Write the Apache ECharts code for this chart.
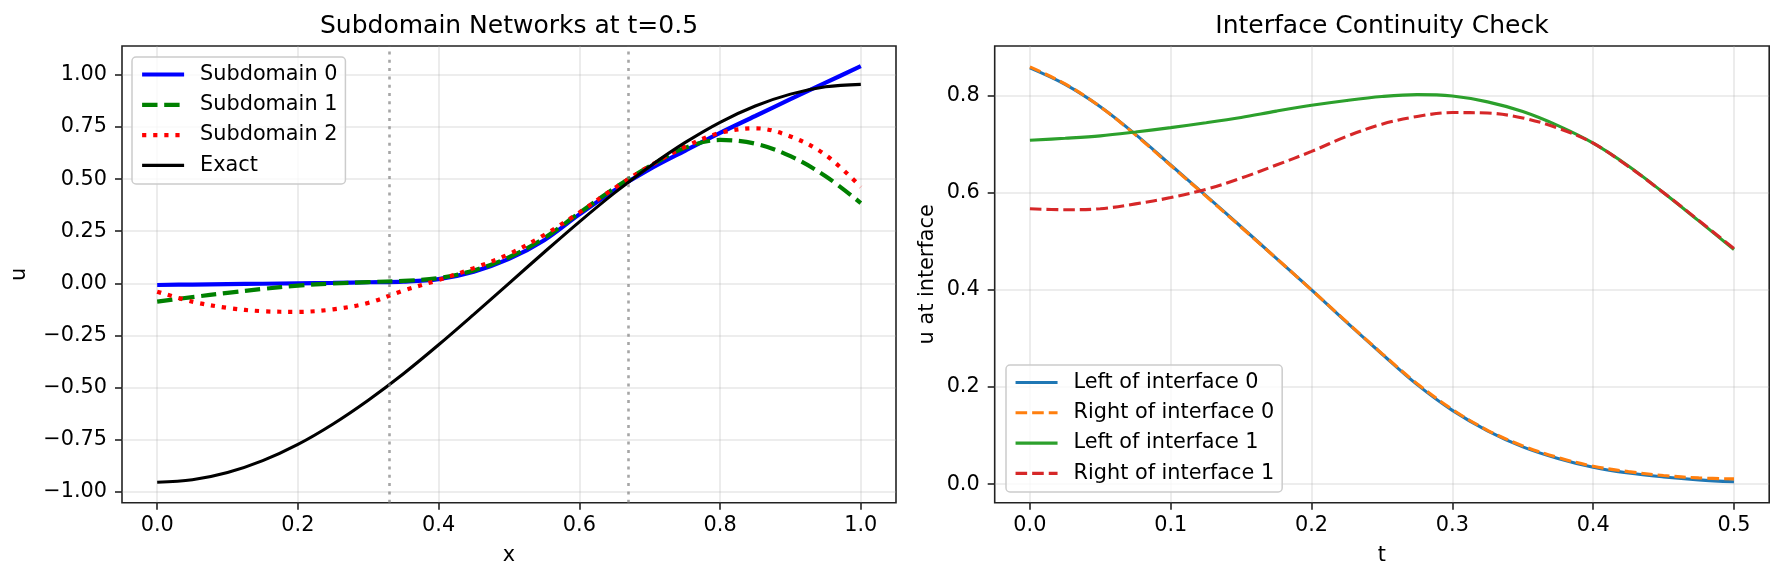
<!DOCTYPE html>
<html>
<head>
<meta charset="utf-8">
<script src="https://cdn.jsdelivr.net/npm/echarts@6.0.0/dist/echarts.min.js"></script>
<style>
html, body { margin: 0; padding: 0; background: #fff; }
#chart { width: 1784px; height: 581px; }
</style>
</head>
<body>
<div id="chart"></div>
<script>
// left panel: networks at t=0.5
var xs = [0, 0.05, 0.1, 0.15, 0.2, 0.25, 0.3, 0.35, 0.4, 0.45, 0.5,
          0.55, 0.6, 0.65, 0.7, 0.75, 0.8, 0.85, 0.9, 0.95, 1.0];
var sub0 = [-0.008, -0.006, -0.004, -0.002, 0.000, 0.002, 0.005, 0.008, 0.020, 0.056, 0.117,
            0.207, 0.331, 0.447, 0.548, 0.636, 0.722, 0.803, 0.884, 0.963, 1.042];
var sub1 = [-0.088, -0.066, -0.046, -0.027, -0.011, -0.001, 0.006, 0.012, 0.025, 0.062, 0.125,
            0.217, 0.338, 0.457, 0.562, 0.650, 0.688, 0.670, 0.610, 0.514, 0.385];
var sub2 = [-0.040, -0.088, -0.118, -0.134, -0.137, -0.125, -0.094, -0.035, 0.016, 0.073, 0.140,
            0.232, 0.340, 0.457, 0.563, 0.655, 0.722, 0.744, 0.705, 0.616, 0.462];
var exact = [-0.955, -0.943, -0.908, -0.851, -0.773, -0.675, -0.561, -0.434, -0.295, -0.149, 0.000,
             0.149, 0.295, 0.434, 0.561, 0.675, 0.773, 0.851, 0.908, 0.943, 0.955];
var interfaces = [1 / 3, 2 / 3];

// right panel: values at the interfaces over time
var ts = [0, 0.025, 0.05, 0.075, 0.1, 0.125, 0.15, 0.175, 0.2, 0.225, 0.25,
          0.275, 0.3, 0.325, 0.35, 0.375, 0.4, 0.425, 0.45, 0.475, 0.5];
var left0 = [0.857, 0.823, 0.777, 0.720, 0.657, 0.594, 0.530, 0.465, 0.400, 0.333, 0.268,
             0.205, 0.152, 0.110, 0.077, 0.053, 0.035, 0.023, 0.015, 0.009, 0.005];
var right0 = [0.859, 0.824, 0.777, 0.719, 0.656, 0.593, 0.529, 0.465, 0.400, 0.334, 0.269,
              0.207, 0.154, 0.111, 0.079, 0.055, 0.037, 0.026, 0.018, 0.013, 0.011];
var left1 = [0.708, 0.712, 0.717, 0.725, 0.734, 0.744, 0.755, 0.768, 0.780, 0.790, 0.798,
             0.802, 0.799, 0.787, 0.767, 0.738, 0.702, 0.655, 0.600, 0.542, 0.483];
var right1 = [0.567, 0.565, 0.567, 0.577, 0.590, 0.607, 0.630, 0.657, 0.685, 0.716, 0.741,
              0.757, 0.765, 0.764, 0.754, 0.733, 0.702, 0.654, 0.600, 0.543, 0.485];

var xTicksL = [0, 0.2, 0.4, 0.6, 0.8, 1.0];
var yTicksL = [-1, -0.75, -0.5, -0.25, 0, 0.25, 0.5, 0.75, 1.0];
var xTicksR = [0, 0.1, 0.2, 0.3, 0.4, 0.5];
var yTicksR = [0, 0.2, 0.4, 0.6, 0.8];

var FONT = 'DejaVu Sans';
var chart = echarts.init(document.getElementById('chart'), null, {renderer: 'canvas'});

function pairs(a, b) {
    return a.map(function (v, i) { return [v, b[i]]; });
}

function fmt(digits) {
    return function (v) {
        var s = Math.abs(v).toFixed(digits);
        return (v < -1e-9 ? '\u2212' : '') + s;
    };
}

function axis(gridIndex, min, max, ticks, digits, name, nameGap, margin) {
    return {
        type: 'value',
        gridIndex: gridIndex,
        min: min,
        max: max,
        axisLine: {show: false, onZero: false},
        axisTick: {show: true, inside: false, length: 7, customValues: ticks,
                   lineStyle: {color: '#222', width: 1.6}},
        axisLabel: {customValues: ticks, formatter: fmt(digits), color: '#000',
                    fontSize: 20.8, fontFamily: FONT, margin: margin},
        splitLine: {show: true, lineStyle: {color: 'rgba(176,176,176,0.3)', width: 1.6}},
        name: name,
        nameLocation: 'middle',
        nameGap: nameGap,
        nameTextStyle: {color: '#000', fontSize: 20.8, fontFamily: FONT}
    };
}

function line(name, data, color, width, type, xi) {
    return {
        name: name,
        type: 'line',
        xAxisIndex: xi,
        yAxisIndex: xi,
        data: data,
        symbol: 'none',
        smooth: 0.35,
        lineStyle: {color: color, width: width, type: type},
        itemStyle: {color: color},
        emphasis: {disabled: true}
    };
}

var legendBase = {
    orient: 'vertical',
    itemWidth: 42,
    itemHeight: 14,
    itemGap: 9.3,
    padding: [7, 8, 8, 8],
    backgroundColor: 'rgba(255,255,255,0.8)',
    borderColor: '#cccccc',
    borderWidth: 1.5,
    borderRadius: 4,
    itemStyle: {opacity: 0, borderWidth: 0},
    lineStyle: {width: 'inherit', opacity: 1},
    textStyle: {color: '#000', fontSize: 20.8, fontFamily: FONT, lineHeight: 21,
                padding: [0, 0, 0, 11]}
};

var exactSeries = line('Exact', pairs(xs, exact), '#000000', 3.1, 'solid', 0);
exactSeries.markLine = {
    silent: true,
    symbol: ['none', 'none'],
    label: {show: false},
    lineStyle: {color: 'rgba(128,128,128,0.7)', width: 2.6, type: [3, 5.3]},
    data: interfaces.map(function (v) { return {xAxis: v}; })
};

var option = {
    animation: false,
    textStyle: {fontFamily: FONT},
    title: [
        {text: 'Subdomain Networks at t=0.5', left: 509, top: 14, textAlign: 'center', padding: 0,
         textStyle: {fontSize: 25, fontWeight: 'normal', color: '#000', fontFamily: FONT}},
        {text: 'Interface Continuity Check', left: 1382, top: 14, textAlign: 'center', padding: 0,
         textStyle: {fontSize: 25, fontWeight: 'normal', color: '#000', fontFamily: FONT}}
    ],
    grid: [
        {left: 122, right: 888, top: 46, bottom: 78.3, show: true,
         borderColor: '#222', borderWidth: 1.6, backgroundColor: 'transparent'},
        {left: 994.7, right: 14.8, top: 46, bottom: 78.3, show: true,
         borderColor: '#222', borderWidth: 1.6, backgroundColor: 'transparent'}
    ],
    xAxis: [
        axis(0, -0.05, 1.05, xTicksL, 1, 'x', 42, 12),
        axis(1, -0.025, 0.525, xTicksR, 1, 't', 42, 12)
    ],
    yAxis: [
        axis(0, -1.053, 1.139, yTicksL, 2, 'u', 92, 15),
        axis(1, -0.038, 0.902, yTicksR, 1, 'u at interface', 57, 15)
    ],
    legend: [
        Object.assign({}, legendBase, {
            left: 132, top: 57,
            data: ['Subdomain 0', 'Subdomain 1', 'Subdomain 2', 'Exact']
        }),
        Object.assign({}, legendBase, {
            left: 1006, top: 365,
            data: ['Left of interface 0', 'Right of interface 0', 'Left of interface 1', 'Right of interface 1']
        })
    ],
    series: [
        line('Subdomain 0', pairs(xs, sub0), '#0000ff', 4.2, 'solid', 0),
        line('Subdomain 1', pairs(xs, sub1), '#008000', 4.2, [15.4, 6.7], 0),
        line('Subdomain 2', pairs(xs, sub2), '#ff0000', 4.2, [4.2, 6.9], 0),
        exactSeries,
        line('Left of interface 0', pairs(ts, left0), '#1f77b4', 3.1, 'solid', 1),
        line('Right of interface 0', pairs(ts, right0), '#ff7f0e', 3.1, [11.6, 5], 1),
        line('Left of interface 1', pairs(ts, left1), '#2ca02c', 3.1, 'solid', 1),
        line('Right of interface 1', pairs(ts, right1), '#d62728', 3.1, [11.6, 5], 1)
    ]
};

chart.setOption(option);
</script>
</body>
</html>
